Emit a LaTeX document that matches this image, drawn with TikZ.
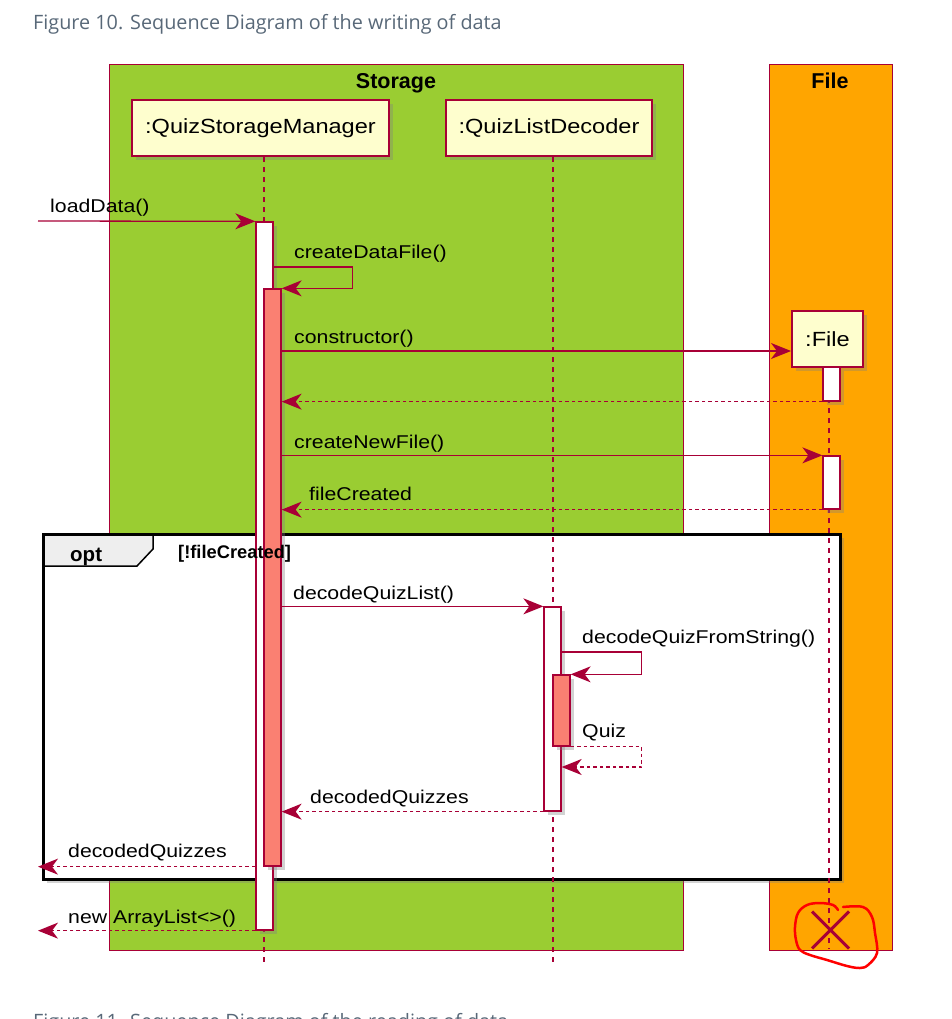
\documentclass[tikz,border=0pt]{standalone}
\usepackage{fontspec}
\usepackage{xcolor}
\usetikzlibrary{calc}
\usetikzlibrary{arrows.meta}
\usetikzlibrary{shadows}
\usetikzlibrary{shapes.misc}
\newfontfamily\umlfont[FakeStretch=1.15]{Liberation Sans}
\newfontfamily\umlhead{Liberation Sans}
\newfontfamily\capfont{Open Sans}
\definecolor{umlred}{HTML}{A80036}
\definecolor{umlyellow}{HTML}{FEFECE}
\definecolor{storagegreen}{HTML}{9ACD32}
\definecolor{fileorange}{HTML}{FFA500}
\definecolor{barsalmon}{HTML}{FA8072}
\definecolor{tabgray}{HTML}{EEEEEE}
\definecolor{capgray}{RGB}{88,104,120}

\begin{document}
\begin{tikzpicture}[x=1pt, y=-1pt,
  shade/.style={drop shadow={shadow xshift=4pt, shadow yshift=-4pt, opacity=.35}},
  actor/.style={draw=umlred, line width=2pt, fill=umlyellow, inner sep=0pt, minimum height=56pt, shade, font=\umlfont\fontsize{20.5}{24}\selectfont},
  bar/.style={draw=umlred, line width=1.3pt, fill=white, minimum width=17pt, inner sep=0pt, shade},
  sbar/.style={bar, fill=barsalmon},
  lifeline/.style={umlred, line width=1.3pt, dash pattern=on 5pt off 5pt},
  msg/.style={umlred, line width=1.3pt, -{Stealth[length=20pt, width=16pt, inset=6pt]}},
  ret/.style={msg, dash pattern=on 3.5pt off 3pt},
  lbl/.style={anchor=base west, inner sep=0pt, font=\umlfont\fontsize{18.5}{22}\selectfont},
  boxtitle/.style={anchor=base, inner sep=0pt, font=\umlhead\bfseries\fontsize{21.5}{24}\selectfont}]
\useasboundingbox (0,0) rectangle (952,1019);
\clip (0,0) rectangle (952,1019);

\node[anchor=base west, inner sep=0pt, text=capgray, font=\capfont\fontsize{19.8}{22}\selectfont] (fig10) at (33,30) {Figure 10. Sequence Diagram of the writing of data};
\node[anchor=base west, inner sep=0pt, text=capgray, font=\capfont\fontsize{19.8}{22}\selectfont] (fig11) at (33,1028) {Figure 11. Sequence Diagram of the reading of data};

\draw[umlred, fill=storagegreen] (109,64) rectangle (683,950);
\node[boxtitle] (storageT) at (396,89) {Storage};
\draw[umlred, fill=fileorange] (769,64) rectangle (892,950);
\node[boxtitle] (fileT) at (830,89) {File};

\fill[white, shade] (43,534) rectangle (840,879);
\draw[line width=1.5pt, fill=tabgray] (43,534) -- (153,534) -- (153,549) -- (137,566) -- (43,566) -- cycle;
\draw[line width=3pt] (43,534) rectangle (840,879);

\node[actor, minimum width=257pt] (qsm) at (260.5,128) {:QuizStorageManager};
\node[actor, minimum width=206pt] (qld) at (549,128) {:QuizListDecoder};
\node[actor, minimum width=71pt] (file) at (827.5,339) {:File};
\foreach \p/\dx/\len in {qsm/3.5/806, qld/4/806, file/1.5/581} {
 \draw[lifeline] ([xshift=\dx pt]\p.south) -- ++(0,\len);
}

\node[bar, minimum height=708pt] (qsmA) at (264.5,576) {};
\node[sbar, minimum height=577pt] (qsmB) at (272.5,577.5) {};
\node[bar, minimum height=204pt] (qldA) at (552.5,709) {};
\node[sbar, minimum height=71pt] (qldB) at (561.5,710.5) {};
\node[bar, minimum height=34pt] (fileA) at (831.5,384) {};
\node[bar, minimum height=53pt] (fileB) at (831.5,482.5) {};
\node[draw=umlred, cross out, line width=3pt, minimum size=34pt, inner sep=0pt] (fileEnd) at (830.5,930) {};

\node[anchor=base west, inner sep=0pt, font=\umlhead\bfseries\fontsize{20.5}{24}\selectfont] (optT) at (70,561) {opt};
\node[anchor=base west, inner sep=0pt, font=\umlhead\bfseries\fontsize{18.3}{22}\selectfont] (guard) at (178,558) {[!fileCreated]};

\coordinate (in) at (38,221);
\draw[msg] (in) -- (qsmA.north west);
\node[lbl] at (50,212) {loadData()};
\draw[msg] (qsmA.east |- 0,267) -- ++(79,0) |- (qsmB.north east);
\node[lbl] at (294,258) {createDataFile()};
\draw[msg] (qsmB.east |- 0,351) -- (file.west |- 0,351);
\node[lbl] at (294,343) {constructor()};
\draw[ret] (fileA.south west) -- (qsmB.east |- fileA.south west);
\draw[msg] (qsmB.east |- fileB.north west) -- (fileB.north west);
\node[lbl] at (294,448) {createNewFile()};
\draw[ret] (fileB.south west) -- (qsmB.east |- fileB.south west);
\node[lbl] at (309,500) {fileCreated};
\draw[msg] (qsmB.east |- qldA.north west) -- (qldA.north west);
\node[lbl] at (293,599) {decodeQuizList()};
\draw[msg] (qldA.east |- 0,652) -- ++(80,0) |- (qldB.north east);
\node[lbl] at (582,643) {decodeQuizFromString()};
\draw[ret] (qldB.south east) -- ++(71,0) |- (qldA.east |- 0,767);
\node[lbl] at (582,737) {Quiz};
\draw[ret] (qldA.south west) -- (qsmB.east |- qldA.south west);
\node[lbl] at (310,803) {decodedQuizzes};
\draw[ret] (qsmA.west |- qsmB.south) -- (in |- qsmB.south);
\node[lbl] at (68,857) {decodedQuizzes};
\draw[ret] (qsmA.south west) -- (in |- qsmA.south west);
\node[lbl] at (68,923) {new ArrayList<>()};

\draw[red, line width=2.5pt, line cap=round] plot[smooth, tension=.6] coordinates {(843,907) (863,907) (872,917) (875,933) (877,953) (868,965) (860,968) (847,966) (827,960) (810,955) (800,950) (796,940) (795,927) (798,913) (807,905) (820,903) (833,905) (838,910)};
\end{tikzpicture}
\end{document}
